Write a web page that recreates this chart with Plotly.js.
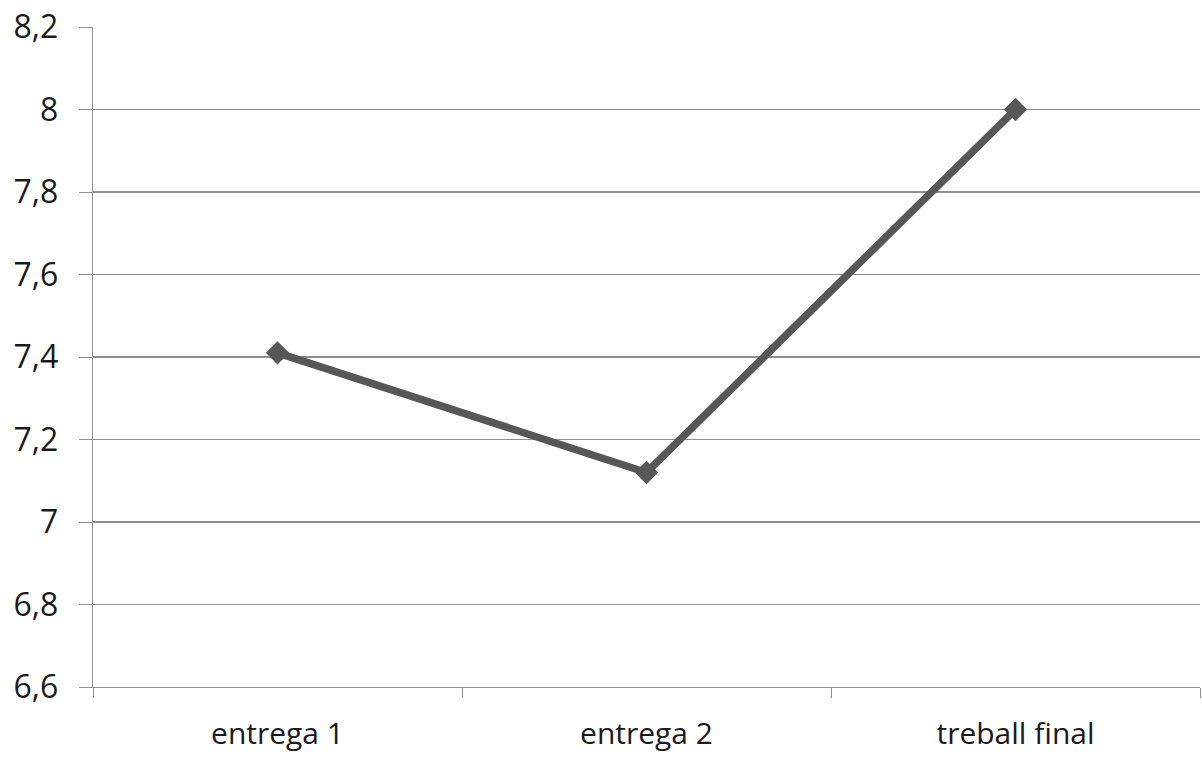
<!DOCTYPE html>
<html>
<head>
<meta charset="utf-8">
<script src="https://cdn.plot.ly/plotly-3.0.1.min.js"></script>
<style>html,body{margin:0;padding:0;background:#fff;}#chart{width:1202px;height:758px;}</style>
</head>
<body>
<div id="chart"></div>
<script>
const categories = ["entrega 1", "entrega 2", "treball final"];
const values = [7.41, 7.12, 8.0];
const yTicks = [6.6, 6.8, 7.0, 7.2, 7.4, 7.6, 7.8, 8.0, 8.2];
const yTickLabels = ["6,6", "6,8", "7", "7,2", "7,4", "7,6", "7,8", "8", "8,2"];

const trace = {
  x: categories,
  y: values,
  type: "scatter",
  mode: "lines+markers",
  line: {color: "#575757", width: 7.5},
  marker: {symbol: "diamond", size: 18, color: "#575757"},
  hoverinfo: "x+y"
};

const layout = {
  width: 1202,
  height: 758,
  margin: {l: 93, r: 2, t: 27, b: 71},
  paper_bgcolor: "#ffffff",
  plot_bgcolor: "#ffffff",
  showlegend: false,
  font: {family: "Open Sans, Liberation Sans, sans-serif", size: 30, color: "#1a1a1a"},
  xaxis: {
    type: "category",
    range: [-0.5, 2.5],
    tickson: "boundaries",
    ticks: "outside",
    ticklen: 10,
    tickcolor: "#8f8f8f",
    showline: true,
    linecolor: "#8f8f8f",
    linewidth: 1.3,
    showgrid: false,
    zeroline: false,
    ticklabelstandoff: 20,
    tickfont: {size: 30, color: "#1a1a1a"}
  },
  yaxis: {
    range: [6.6, 8.2],
    tickvals: yTicks,
    ticktext: yTickLabels,
    ticks: "outside",
    ticklen: 13,
    tickcolor: "#8f8f8f",
    showline: true,
    linecolor: "#8f8f8f",
    linewidth: 1.3,
    showgrid: true,
    gridcolor: "#8f8f8f",
    gridwidth: 1.3,
    zeroline: false,
    ticklabelstandoff: 14,
    tickfont: {size: 32, color: "#1a1a1a"}
  }
};

Plotly.newPlot("chart", [trace], layout, {displayModeBar: false, staticPlot: true});
</script>
</body>
</html>
